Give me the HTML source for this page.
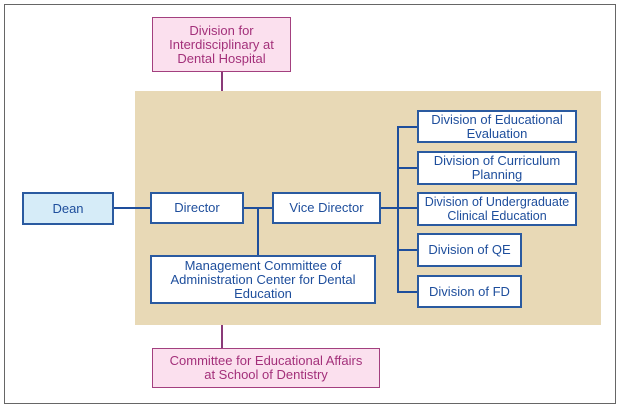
<!DOCTYPE html>
<html><head><style>
body{margin:0;width:620px;height:407px;background:#fff;position:relative;font-family:"Liberation Sans",sans-serif;overflow:hidden}
.a{position:absolute;box-sizing:border-box}
.b{position:absolute;box-sizing:border-box;background:#fff;border:2px solid #2a5aa0;color:#1e4e9c;font-size:13px;line-height:14px;display:flex;align-items:center;justify-content:center;text-align:center}
.p{background:#fbe0ee;border:1.5px solid #a3407f;color:#a3307a}
.l{position:absolute;background:#1e4e9c}
</style></head><body>
<div class="a" style="left:4px;top:4px;width:612px;height:400px;border:1px solid #666"></div>
<div class="a" style="left:135px;top:91px;width:466px;height:234px;background:#e8d9b6"></div>
<div class="l" style="left:221px;top:72px;width:2px;height:19px;background:#8a3a78"></div>
<div class="l" style="left:221px;top:325px;width:2px;height:23px;background:#8a3a78"></div>
<div class="b p" style="left:152px;top:17px;width:139px;height:55px">Division for<br>Interdisciplinary at<br>Dental Hospital</div>
<div class="b p" style="left:152px;top:348px;width:228px;height:40px">Committee for Educational Affairs<br>at School of Dentistry</div>
<div class="l" style="left:114px;top:207px;width:36px;height:2px"></div>
<div class="l" style="left:244px;top:207px;width:28px;height:2px"></div>
<div class="l" style="left:257px;top:207px;width:2px;height:48px"></div>
<div class="l" style="left:381px;top:207px;width:36px;height:2px"></div>
<div class="l" style="left:397px;top:126px;width:2px;height:166px"></div>
<div class="l" style="left:397px;top:126px;width:20px;height:2px"></div>
<div class="l" style="left:397px;top:167px;width:20px;height:2px"></div>
<div class="l" style="left:397px;top:249px;width:20px;height:2px"></div>
<div class="l" style="left:397px;top:291px;width:20px;height:2px"></div>
<div class="b" style="left:22px;top:192px;width:92px;height:33px;background:#d6ecf8">Dean</div>
<div class="b" style="left:150px;top:192px;width:94px;height:32px">Director</div>
<div class="b" style="left:272px;top:192px;width:109px;height:32px">Vice Director</div>
<div class="b" style="left:150px;top:255px;width:226px;height:49px">Management Committee of<br>Administration Center for Dental<br>Education</div>
<div class="b" style="left:417px;top:110px;width:160px;height:33px">Division of Educational<br>Evaluation</div>
<div class="b" style="left:417px;top:151px;width:160px;height:34px">Division of Curriculum<br>Planning</div>
<div class="b" style="left:417px;top:192px;width:160px;height:34px;font-size:12.5px">Division of Undergraduate<br>Clinical Education</div>
<div class="b" style="left:417px;top:233px;width:105px;height:34px">Division of QE</div>
<div class="b" style="left:417px;top:275px;width:105px;height:33px">Division of FD</div>
</body></html>
